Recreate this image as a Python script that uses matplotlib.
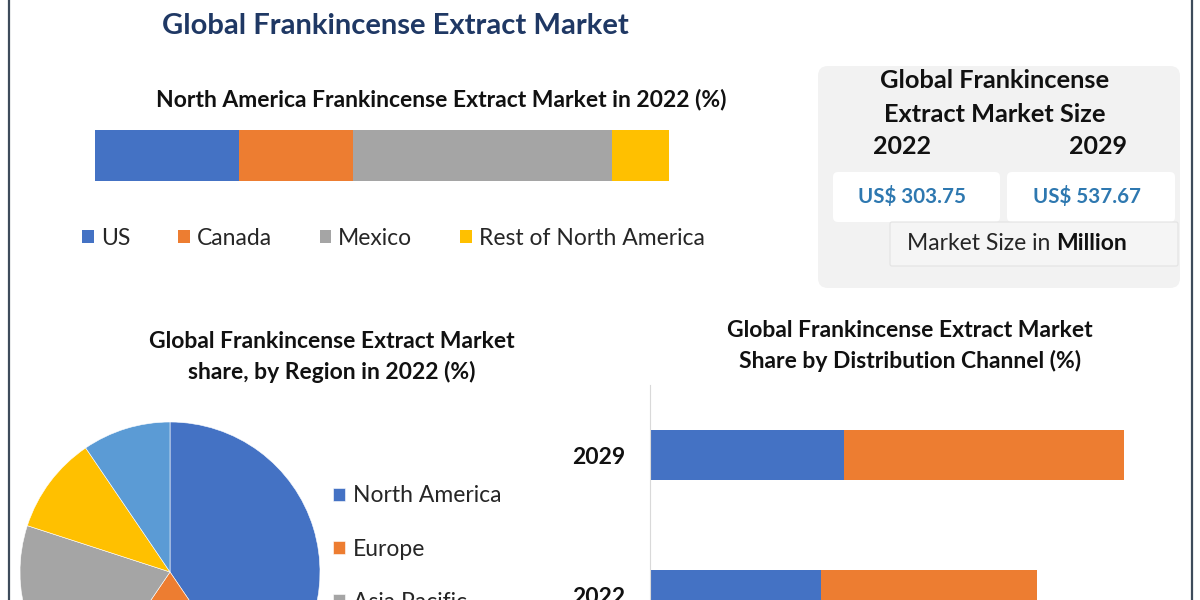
import matplotlib
matplotlib.use("Agg")
import matplotlib.pyplot as plt
from matplotlib.patches import FancyBboxPatch

plt.rcParams["font.family"] = ["Lato", "DejaVu Sans"]

# data
na_countries = ["US", "Canada", "Mexico", "Rest of North America"]
na_share = [25, 20, 45, 10]

regions = ["North America", "Europe", "Asia Pacific", "Middle East and Africa", "South America"]
region_share = [40.5, 19, 20.5, 10.5, 9.5]

years = ["2022", "2029"]
channel_a = [36.1, 40.9]
channel_b = [45.6, 59.1]

size_years = ["2022", "2029"]
size_values = ["US$ 303.75", "US$ 537.67"]

BLUE, ORANGE, GRAY, YELLOW, LBLUE = "#4472C4", "#ED7D31", "#A5A5A5", "#FFC000", "#5B9BD5"
na_colors = [BLUE, ORANGE, GRAY, YELLOW]
region_colors = [BLUE, ORANGE, GRAY, YELLOW, LBLUE]

W, H = 1200, 600
fig = plt.figure(figsize=(12, 6), dpi=100)
fig.patch.set_facecolor("white")


def frac(x0, y0, x1, y1):
    # pixel box (top-left origin) -> figure fraction rect
    return [x0 / W, 1 - y1 / H, (x1 - x0) / W, (y1 - y0) / H]


# overlay for text / boxes in pixel units
ov = fig.add_axes([0, 0, 1, 1], zorder=0)
ov.set_xlim(0, W)
ov.set_ylim(H, 0)
ov.axis("off")

ov.plot([9, 9], [0, H], color="#3E4B5B", lw=1.6)
ov.plot([1192, 1192], [0, H], color="#3E4B5B", lw=1.6)

ov.text(395, 26, "Global Frankincense Extract Market", ha="center", va="center",
        fontsize=21, fontweight="bold", color="#1F3864")

# ---- North America stacked bar
ov.text(441, 99, "North America Frankincense Extract Market in 2022 (%)", ha="center",
        va="center", fontsize=16.5, fontweight="bold", color="#111111")

ax1 = fig.add_axes(frac(95, 130, 669, 181), zorder=2)
left = 0
for name, val, col in zip(na_countries, na_share, na_colors):
    ax1.barh(0, val, left=left, height=1, color=col, label=name)
    left += val
ax1.set_xlim(0, sum(na_share))
ax1.set_ylim(-0.5, 0.5)
ax1.axis("off")
fig.legend(*ax1.get_legend_handles_labels(), loc="center left",
           bbox_to_anchor=(71 / W, 1 - 238 / H), ncol=4, frameon=False,
           fontsize=16.5, handlelength=0.5, handleheight=0.5, handletextpad=0.3,
           columnspacing=2.1, borderpad=0, labelcolor="#262626")

# ---- Market size box
ov.add_patch(FancyBboxPatch((818, 66), 362, 222, boxstyle="round,pad=0,rounding_size=10",
                            fc="#F2F2F2", ec="none"))
ov.add_patch(FancyBboxPatch((833, 172), 167, 50, boxstyle="round,pad=0,rounding_size=5",
                            fc="white", ec="none"))
ov.add_patch(FancyBboxPatch((1007, 172), 168, 50, boxstyle="round,pad=0,rounding_size=5",
                            fc="white", ec="none"))
ov.add_patch(FancyBboxPatch((890, 222), 288, 44, boxstyle="round,pad=0,rounding_size=2",
                            fc="#F5F5F5", ec="#E3E3E3", lw=0.8))
ov.text(995, 81, "Global Frankincense", ha="center", va="center", fontsize=18.3,
        fontweight="bold", color="#111111")
ov.text(995, 115, "Extract Market Size", ha="center", va="center", fontsize=18.3,
        fontweight="bold", color="#111111")
for xc, yr, xv, val in zip([902, 1098], size_years, [912, 1087], size_values):
    ov.text(xc, 147, yr, ha="center", va="center", fontsize=18, fontweight="bold",
            color="#111111")
    ov.text(xv, 196, val, ha="center", va="center", fontsize=14.8, fontweight="bold",
            color="#2E78B0")

# "Market Size in **Million**" as two pieces placed side by side
t1 = ov.text(907, 244, "Market Size in", ha="left", va="center", fontsize=16.5,
             color="#262626")
renderer = fig.canvas.get_renderer()
bb = t1.get_window_extent(renderer=renderer)
ov.text(bb.x1 + 6, 244, "Million", ha="left", va="center", fontsize=16.5,
        fontweight="bold", color="#111111")

# ---- Region pie
ov.text(332, 357, "Global Frankincense Extract Market\nshare, by Region in 2022 (%)",
        ha="center", va="center", fontsize=16.5, fontweight="bold", color="#111111",
        linespacing=1.45)
ax2 = fig.add_axes(frac(20, 422, 320, 722), zorder=2)
wedges, _ = ax2.pie(region_share, colors=region_colors, startangle=90, counterclock=False,
                    radius=1, wedgeprops=dict(edgecolor="white", linewidth=0.4))
ax2.set_xlim(-1, 1)
ax2.set_ylim(-1, 1)
ax2.set_aspect("equal")
fig.legend(wedges, regions, loc="upper left", bbox_to_anchor=(322 / W, 1 - 474 / H),
           frameon=False, fontsize=16.5, handlelength=0.5, handleheight=0.5,
           handletextpad=0.35, labelspacing=1.4, borderpad=0, labelcolor="#262626")

# ---- Distribution channel bars
ov.text(910, 346, "Global Frankincense Extract Market\nShare by Distribution Channel (%)",
        ha="center", va="center", fontsize=16.5, fontweight="bold", color="#111111",
        linespacing=1.45)
ax3 = fig.add_axes(frac(650, 385, 1148, 665), zorder=2)
ypos = list(range(len(years)))
ax3.barh(ypos, channel_a, height=0.357, color=BLUE)
ax3.barh(ypos, channel_b, left=channel_a, height=0.357, color=ORANGE)
ax3.set_xlim(0, 105)
ax3.set_ylim(-0.5, 1.5)
ax3.set_yticks(ypos)
ax3.set_yticklabels(years, fontsize=16.5, fontweight="bold", color="#111111")
ax3.tick_params(axis="y", length=0, pad=18)
ax3.set_xticks([])
for s in ["top", "right", "bottom"]:
    ax3.spines[s].set_visible(False)
ax3.spines["left"].set_color("#D9D9D9")
ax3.patch.set_alpha(0)

fig.savefig("out.png", dpi=100)
